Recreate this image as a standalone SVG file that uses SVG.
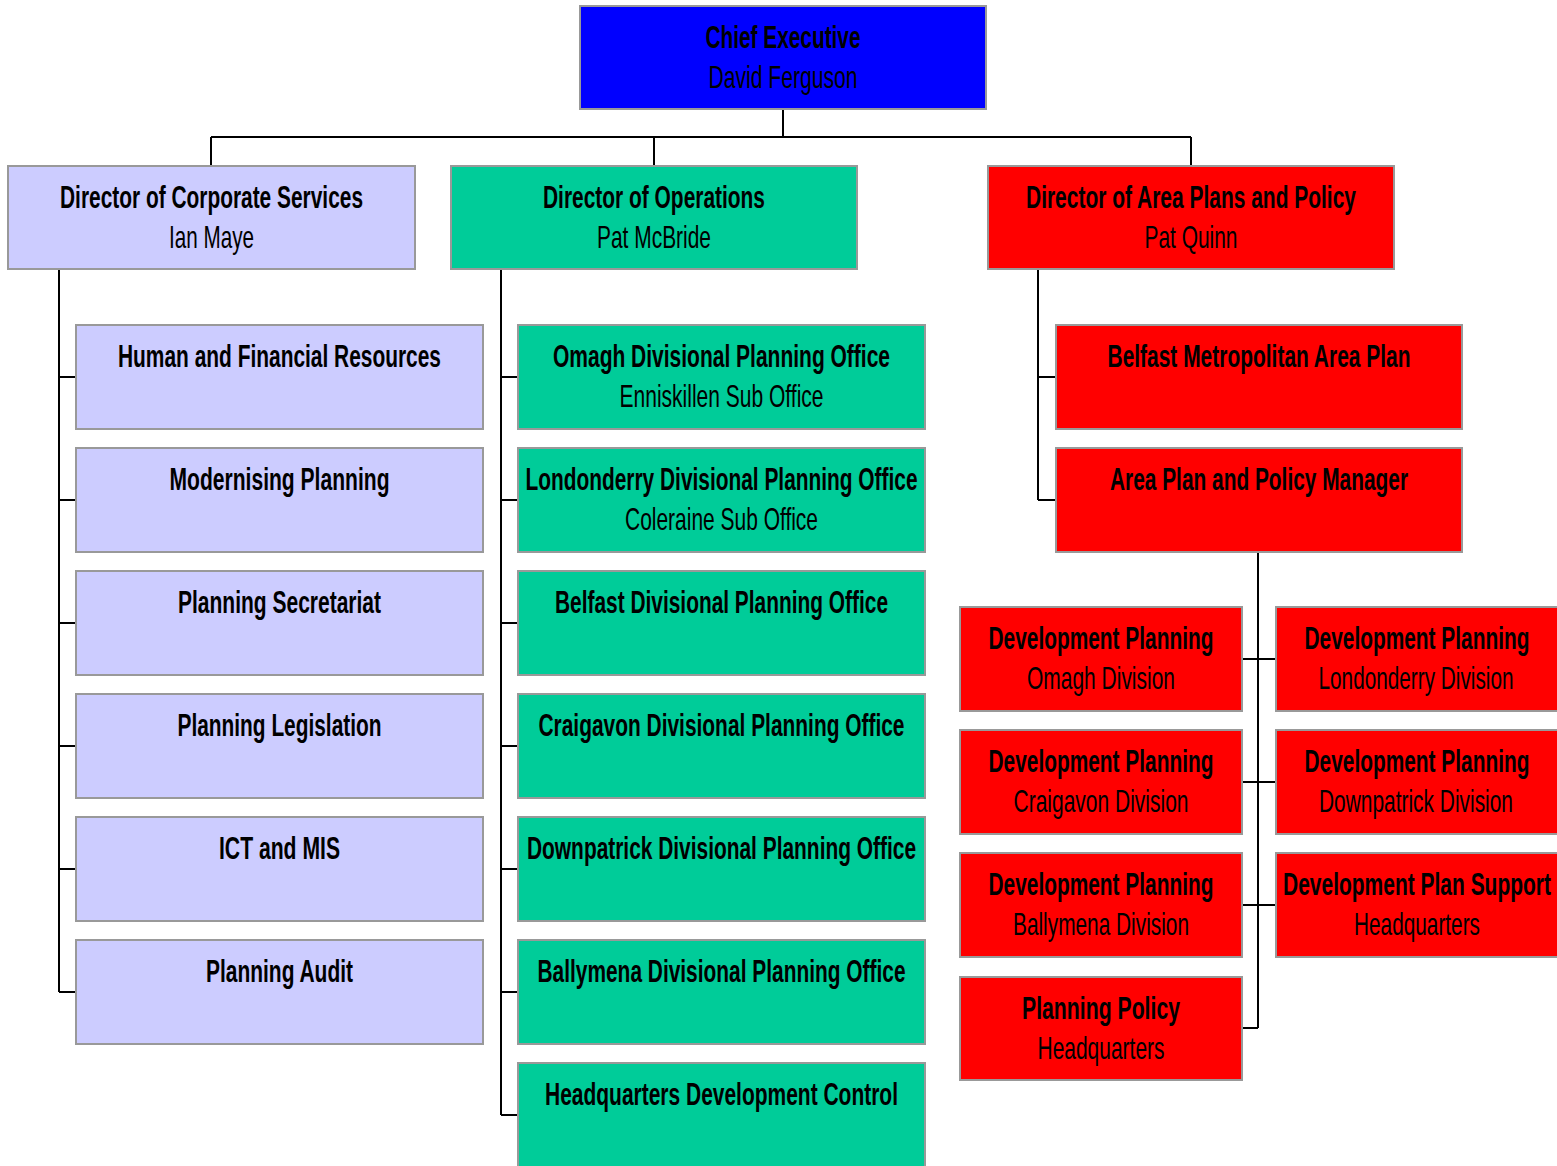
<svg xmlns="http://www.w3.org/2000/svg" width="1557" height="1166" viewBox="0 0 1557 1166">
<style>
.n rect{stroke:#999;stroke-width:2}
.blue{fill:#0000FF}.lav{fill:#CCCCFF}.grn{fill:#00CC99}.red{fill:#FF0000}
text{font-family:"Liberation Sans",Arial,sans-serif;font-size:32px;text-anchor:middle;fill:#000}
.t{font-weight:bold}
.c path{fill:none;stroke:#000;stroke-width:2}
</style>
<g class="c" id="connectors">
<path d="M783 109V137M211 137H1191M211 137V166M654 137V166M1191 137V166"/>
<path d="M59 269V992M59 377H76M59 500H76M59 623H76M59 746H76M59 869H76M59 992H76"/>
<path d="M501 269V1115M501 377H518M501 500H518M501 623H518M501 746H518M501 869H518M501 992H518M501 1115H518"/>
<path d="M1038 269V500M1038 377H1056M1038 500H1056"/>
<path d="M1258 552V1028M1242 659H1276M1242 782H1276M1242 905H1276M1242 1028H1258"/>
</g>
<g class="n">
<g id="chief"><rect class="blue" x="580" y="6" width="406" height="103"/><text class="t" x="783" y="48" textLength="155" lengthAdjust="spacingAndGlyphs">Chief Executive</text><text x="783" y="88" textLength="149" lengthAdjust="spacingAndGlyphs">David Ferguson</text></g>
<g id="dir-corp"><rect class="lav" x="8" y="166" width="407" height="103"/><text class="t" x="211.5" y="208" textLength="303" lengthAdjust="spacingAndGlyphs">Director of Corporate Services</text><text x="211.5" y="248" textLength="85" lengthAdjust="spacingAndGlyphs">Ian Maye</text></g>
<g id="dir-ops"><rect class="grn" x="451" y="166" width="406" height="103"/><text class="t" x="654" y="208" textLength="222" lengthAdjust="spacingAndGlyphs">Director of Operations</text><text x="654" y="248" textLength="114" lengthAdjust="spacingAndGlyphs">Pat McBride</text></g>
<g id="dir-area"><rect class="red" x="988" y="166" width="406" height="103"/><text class="t" x="1191" y="208" textLength="330" lengthAdjust="spacingAndGlyphs">Director of Area Plans and Policy</text><text x="1191" y="248" textLength="93" lengthAdjust="spacingAndGlyphs">Pat Quinn</text></g>

<g id="hfr"><rect class="lav" x="76" y="325" width="407" height="104"/><text class="t" x="279.5" y="367" textLength="323" lengthAdjust="spacingAndGlyphs">Human and Financial Resources</text></g>
<g id="modern"><rect class="lav" x="76" y="448" width="407" height="104"/><text class="t" x="279.5" y="490" textLength="220" lengthAdjust="spacingAndGlyphs">Modernising Planning</text></g>
<g id="secretariat"><rect class="lav" x="76" y="571" width="407" height="104"/><text class="t" x="279.5" y="613" textLength="203" lengthAdjust="spacingAndGlyphs">Planning Secretariat</text></g>
<g id="legislation"><rect class="lav" x="76" y="694" width="407" height="104"/><text class="t" x="279.5" y="736" textLength="204" lengthAdjust="spacingAndGlyphs">Planning Legislation</text></g>
<g id="ict"><rect class="lav" x="76" y="817" width="407" height="104"/><text class="t" x="279.5" y="859" textLength="121" lengthAdjust="spacingAndGlyphs">ICT and MIS</text></g>
<g id="audit"><rect class="lav" x="76" y="940" width="407" height="104"/><text class="t" x="279.5" y="982" textLength="147" lengthAdjust="spacingAndGlyphs">Planning Audit</text></g>

<g id="omagh"><rect class="grn" x="518" y="325" width="407" height="104"/><text class="t" x="721.5" y="367" textLength="337" lengthAdjust="spacingAndGlyphs">Omagh Divisional Planning Office</text><text x="721.5" y="407" textLength="204" lengthAdjust="spacingAndGlyphs">Enniskillen Sub Office</text></g>
<g id="londonderry"><rect class="grn" x="518" y="448" width="407" height="104"/><text class="t" x="721.5" y="490" textLength="392" lengthAdjust="spacingAndGlyphs">Londonderry Divisional Planning Office</text><text x="721.5" y="530" textLength="193" lengthAdjust="spacingAndGlyphs">Coleraine Sub Office</text></g>
<g id="belfast"><rect class="grn" x="518" y="571" width="407" height="104"/><text class="t" x="721.5" y="613" textLength="333" lengthAdjust="spacingAndGlyphs">Belfast Divisional Planning Office</text></g>
<g id="craigavon"><rect class="grn" x="518" y="694" width="407" height="104"/><text class="t" x="721.5" y="736" textLength="366" lengthAdjust="spacingAndGlyphs">Craigavon Divisional Planning Office</text></g>
<g id="downpatrick"><rect class="grn" x="518" y="817" width="407" height="104"/><text class="t" x="721.5" y="859" textLength="389" lengthAdjust="spacingAndGlyphs">Downpatrick Divisional Planning Office</text></g>
<g id="ballymena"><rect class="grn" x="518" y="940" width="407" height="104"/><text class="t" x="721.5" y="982" textLength="368" lengthAdjust="spacingAndGlyphs">Ballymena Divisional Planning Office</text></g>
<g id="hqdc"><rect class="grn" x="518" y="1063" width="407" height="110"/><text class="t" x="721.5" y="1105" textLength="353" lengthAdjust="spacingAndGlyphs">Headquarters Development Control</text></g>

<g id="bmap"><rect class="red" x="1056" y="325" width="406" height="104"/><text class="t" x="1259" y="367" textLength="303" lengthAdjust="spacingAndGlyphs">Belfast Metropolitan Area Plan</text></g>
<g id="apm"><rect class="red" x="1056" y="448" width="406" height="104"/><text class="t" x="1259" y="490" textLength="298" lengthAdjust="spacingAndGlyphs">Area Plan and Policy Manager</text></g>

<g id="dp-omagh"><rect class="red" x="960" y="607" width="282" height="104"/><text class="t" x="1101" y="649" textLength="225" lengthAdjust="spacingAndGlyphs">Development Planning</text><text x="1101" y="689" textLength="148" lengthAdjust="spacingAndGlyphs">Omagh Division</text></g>
<g id="dp-londonderry"><rect class="red" x="1276" y="607" width="284" height="104"/><text class="t" x="1417" y="649" textLength="225" lengthAdjust="spacingAndGlyphs">Development Planning</text><text x="1416" y="689" textLength="195" lengthAdjust="spacingAndGlyphs">Londonderry Division</text></g>
<g id="dp-craigavon"><rect class="red" x="960" y="730" width="282" height="104"/><text class="t" x="1101" y="772" textLength="225" lengthAdjust="spacingAndGlyphs">Development Planning</text><text x="1101" y="812" textLength="175" lengthAdjust="spacingAndGlyphs">Craigavon Division</text></g>
<g id="dp-downpatrick"><rect class="red" x="1276" y="730" width="284" height="104"/><text class="t" x="1417" y="772" textLength="225" lengthAdjust="spacingAndGlyphs">Development Planning</text><text x="1416" y="812" textLength="194" lengthAdjust="spacingAndGlyphs">Downpatrick Division</text></g>
<g id="dp-ballymena"><rect class="red" x="960" y="853" width="282" height="104"/><text class="t" x="1101" y="895" textLength="225" lengthAdjust="spacingAndGlyphs">Development Planning</text><text x="1101" y="935" textLength="176" lengthAdjust="spacingAndGlyphs">Ballymena Division</text></g>
<g id="dps-hq"><rect class="red" x="1276" y="853" width="284" height="104"/><text class="t" x="1417" y="895" textLength="268" lengthAdjust="spacingAndGlyphs">Development Plan Support</text><text x="1417" y="935" textLength="126" lengthAdjust="spacingAndGlyphs">Headquarters</text></g>
<g id="pp-hq"><rect class="red" x="960" y="977" width="282" height="103"/><text class="t" x="1101" y="1019" textLength="158" lengthAdjust="spacingAndGlyphs">Planning Policy</text><text x="1101" y="1059" textLength="127" lengthAdjust="spacingAndGlyphs">Headquarters</text></g>
</g>
</svg>
